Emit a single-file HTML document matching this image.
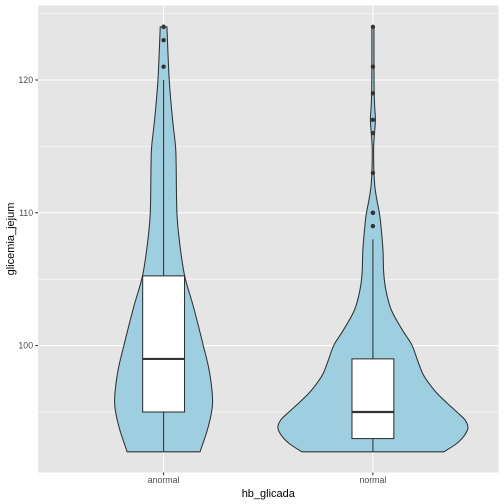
<!DOCTYPE html>
<html>
<head>
<meta charset="utf-8">
<style>
html,body{margin:0;padding:0;background:#fff}
svg{display:block;font-family:"Liberation Sans",sans-serif}
</style>
</head>
<body>
<svg id="chart" width="504" height="504" viewBox="0 0 504 504" xmlns="http://www.w3.org/2000/svg">
<rect x="0" y="0" width="504" height="504" fill="#fff"/>
<rect x="38" y="5.5" width="460.5" height="467" fill="#e5e5e5"/>
<g id="grid"></g>
<g id="marks"></g>
<g id="axes"></g>
<text x="268.3" y="497" font-size="11" text-anchor="middle" fill="#000">hb_glicada</text>
<text transform="translate(14 239) rotate(-90)" font-size="11" text-anchor="middle" fill="#000">glicemia_jejum</text>
</svg>
<script>
const categories = ['anormal', 'normal'];
const yTicks = [100, 110, 120];
const yMinorTicks = [95, 105, 115, 125];
const violinLevels = [
  [92, 93.87, 95.68, 97.94, 100.05, 102.9, 105.3, 107.95, 110.06, 113.6, 115, 117, 120, 124],
  [92, 92.59, 93.19, 93.8, 94.4, 95, 95.68, 96.5, 97.26, 97.94, 98.92, 100.05, 101.17, 102.68, 104.19, 105.47, 107.2, 109.08, 109.98, 110.96, 111.94, 113, 113.98, 114.96, 115.86, 117, 117.97, 119.02, 120.97, 124]
];
const violinWidths = [
  [0.174, 0.213, 0.234, 0.22, 0.189, 0.143, 0.1, 0.075, 0.0635, 0.06, 0.057, 0.043, 0.027, 0.016],
  [0.339, 0.397, 0.435, 0.454, 0.44, 0.401, 0.354, 0.301, 0.263, 0.2365, 0.2126, 0.186, 0.141, 0.088, 0.062, 0.0516, 0.048, 0.038, 0.031, 0.019, 0.0096, 0.005, 0.0035, 0.0035, 0.007, 0.012, 0.0085, 0.006, 0.005, 0.005]
];
const boxQ1 = [95, 93];
const boxMedian = [99, 95];
const boxQ3 = [105.25, 99];
const whiskerLow = [92, 92];
const whiskerHigh = [120, 108];
const outliers = [
  [121, 123, 124, 124],
  [109, 110, 110, 113, 116, 117, 119, 121, 124]
];

const NS = 'http://www.w3.org/2000/svg';
const panel = {left: 38, right: 498.5, top: 5.5, bottom: 472.5};
const xUnit = (panel.right - panel.left) / 2.2;
function xBand(i) { return panel.left + (i + 0.6) * xUnit; }
function xWidth(w) { return w * xUnit; }
function yScale(v) { return 345.6 - (v - 100) * 13.28; }
function make(tag, parent, attrs) {
  const el = document.createElementNS(NS, tag);
  for (const k in attrs) el.setAttribute(k, attrs[k]);
  parent.appendChild(el);
  return el;
}
function smooth(points) {
  let d = '';
  for (let i = 0; i < points.length - 1; i++) {
    const p0 = points[Math.max(i - 1, 0)], p1 = points[i], p2 = points[i + 1], p3 = points[Math.min(i + 2, points.length - 1)];
    const c1x = p1[0] + (p2[0] - p0[0]) / 6, c1y = p1[1] + (p2[1] - p0[1]) / 6;
    const c2x = p2[0] - (p3[0] - p1[0]) / 6, c2y = p2[1] - (p3[1] - p1[1]) / 6;
    d += ' C' + c1x.toFixed(2) + ' ' + c1y.toFixed(2) + ' ' + c2x.toFixed(2) + ' ' + c2y.toFixed(2) + ' ' + p2[0].toFixed(2) + ' ' + p2[1].toFixed(2);
  }
  return d;
}

const grid = document.getElementById('grid');
const marks = document.getElementById('marks');
const axes = document.getElementById('axes');

yMinorTicks.forEach(function (v) {
  const line = make('line', grid, {x1: panel.left, x2: panel.right, y1: yScale(v), y2: yScale(v), stroke: '#fff', 'stroke-width': 0.55});
  
  
});
yTicks.forEach(function (v) {
  const line = make('line', grid, {x1: panel.left, x2: panel.right, y1: yScale(v), y2: yScale(v), stroke: '#fff', 'stroke-width': 1.07});
  
  
  const tick = make('line', axes, {x1: panel.left - 2.75, x2: panel.left, y1: yScale(v), y2: yScale(v), stroke: '#333', 'stroke-width': 1.07});
  
  
  const label = make('text', axes, {x: panel.left - 4.9, y: yScale(v) + 3.1, 'font-size': 8.8, 'text-anchor': 'end', fill: '#4d4d4d'});
  
  
  label.textContent = v;
});

categories.forEach(function (cat, i) {
  const cx = xBand(i);
  const vLine = make('line', grid, {x1: cx, x2: cx, y1: panel.top, y2: panel.bottom, stroke: '#fff', 'stroke-width': 1.07});
  
  

  const tick = make('line', axes, {x1: cx, x2: cx, y1: panel.bottom, y2: panel.bottom + 2.75, stroke: '#333', 'stroke-width': 1.07});
  
  
  const label = make('text', axes, {x: cx, y: panel.bottom + 10.6, 'font-size': 8.8, 'text-anchor': 'middle', fill: '#4d4d4d'});
  
  
  label.textContent = cat;

  const levels = violinLevels[i], widths = violinWidths[i];
  const right = levels.map(function (v, k) { return [cx + xWidth(widths[k]), yScale(v)]; });
  const left = levels.map(function (v, k) { return [cx - xWidth(widths[k]), yScale(v)]; }).reverse();
  const d = 'M' + right[0][0].toFixed(2) + ' ' + right[0][1].toFixed(2) + smooth(right) +
    ' L' + left[0][0].toFixed(2) + ' ' + left[0][1].toFixed(2) + smooth(left) + ' Z';
  const violin = make('path', marks, {d: d, fill: '#9ecfe1', stroke: '#333', 'stroke-width': 1.07, 'stroke-linejoin': 'miter'});
  
  

  const upper = make('line', marks, {x1: cx, x2: cx, y1: yScale(boxQ3[i]), y2: yScale(whiskerHigh[i]), stroke: '#333', 'stroke-width': 1.07});
  
  
  const lower = make('line', marks, {x1: cx, x2: cx, y1: yScale(boxQ1[i]), y2: yScale(whiskerLow[i]), stroke: '#333', 'stroke-width': 1.07});
  
  

  const boxHalf = xWidth(0.1);
  const box = make('rect', marks, {x: cx - boxHalf, y: yScale(boxQ3[i]), width: boxHalf * 2, height: yScale(boxQ1[i]) - yScale(boxQ3[i]), fill: '#fff', stroke: '#333', 'stroke-width': 1.07});
  
  
  const median = make('line', marks, {x1: cx - boxHalf, x2: cx + boxHalf, y1: yScale(boxMedian[i]), y2: yScale(boxMedian[i]), stroke: '#333', 'stroke-width': 2.13});
  
  

  outliers[i].forEach(function (v) {
    const dot = make('circle', marks, {cx: cx, cy: yScale(v), r: 2.2, fill: '#333'});
    
    
  });
});
</script>
</body>
</html>
